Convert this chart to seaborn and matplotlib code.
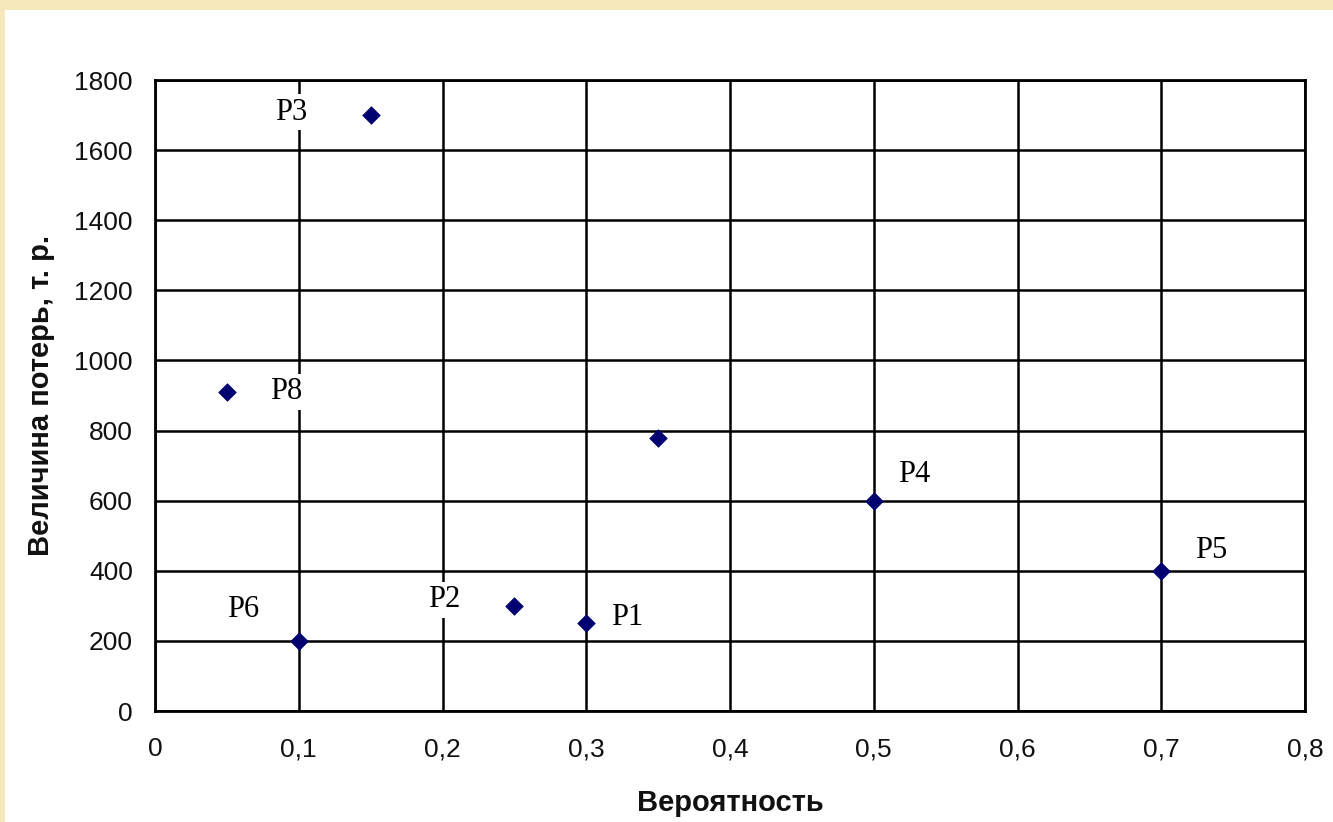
import matplotlib
matplotlib.use("Agg")
import matplotlib.pyplot as plt
import seaborn as sns
import pandas as pd
from matplotlib.patches import Rectangle

# ---- data ----
names = ["P1", "P2", "P3", "P4", "P5", "P6", "P7", "P8"]
prob = [0.30, 0.25, 0.15, 0.50, 0.70, 0.10, 0.35, 0.05]
loss = [250, 300, 1700, 600, 400, 200, 780, 910]
show_label = [True, True, True, True, True, True, False, True]
x_ticks = [0, 0.1, 0.2, 0.3, 0.4, 0.5, 0.6, 0.7, 0.8]
x_tick_labels = ["0", "0,1", "0,2", "0,3", "0,4", "0,5", "0,6", "0,7", "0,8"]
y_ticks = [0, 200, 400, 600, 800, 1000, 1200, 1400, 1600, 1800]
x_title = "Вероятность"
y_title = "Величина потерь, т. р."

# label offsets in pixels (style/position, not data)
label_offsets = {"P1": (41, 6), "P2": (-70, 6), "P3": (-79, 3), "P4": (40, 26),
                 "P5": (50, 20), "P6": (-56, 31), "P8": (59, 0)}

df = pd.DataFrame({"name": names, "prob": prob, "loss": loss})

sns.set_theme(style="white")
plt.rcParams["font.family"] = ["Liberation Sans", "DejaVu Sans"]

fig = plt.figure(figsize=(13.33, 8.22), dpi=100)
fig.patch.set_facecolor("#f6e8bb")
fig.add_artist(Rectangle((5 / 1333, 0), 1 - 5 / 1333, 1 - 10 / 822,
                         transform=fig.transFigure, facecolor="white",
                         edgecolor="none", zorder=0))

ax = fig.add_axes([155 / 1333, 111 / 822, 1150 / 1333, 631 / 822])
ax.set_facecolor("white")

sns.scatterplot(data=df, x="prob", y="loss", marker="D", s=80,
                color="#000070", edgecolor="#000070", linewidth=0.5,
                ax=ax, zorder=5, legend=False)

for n, xv, yv, sh in zip(names, prob, loss, show_label):
    if not sh:
        continue
    ax.annotate(n, xy=(xv, yv), xytext=label_offsets[n],
                textcoords="offset pixels", ha="center", va="center",
                fontsize=22, family=["Liberation Serif", "DejaVu Serif"],
                color="black", zorder=4,
                bbox=dict(boxstyle="square,pad=0.12", fc="white", ec="none"))

ax.set_xlim(0, 0.8)
ax.set_ylim(0, 1800)
ax.set_xticks(x_ticks)
ax.set_xticklabels(x_tick_labels)
ax.set_yticks(y_ticks)
ax.set_yticklabels([str(v) for v in y_ticks])
ax.grid(True, color="black", linewidth=1.8, zorder=1)
ax.set_axisbelow(True)
for sp in ax.spines.values():
    sp.set_visible(True)
    sp.set_color("black")
    sp.set_linewidth(2)
ax.tick_params(axis="both", which="major", direction="out", length=7,
               width=1.8, color="black", labelsize=19, labelcolor="#111111")
ax.tick_params(axis="y", pad=9)
ax.tick_params(axis="x", pad=12)

ax.set_xlabel(x_title, fontsize=21, fontweight="bold", labelpad=20,
              color="#111111")
ax.set_ylabel(y_title, fontsize=21, fontweight="bold", labelpad=14,
              color="#111111")

fig.savefig("out.png", dpi=100, facecolor=fig.get_facecolor())
